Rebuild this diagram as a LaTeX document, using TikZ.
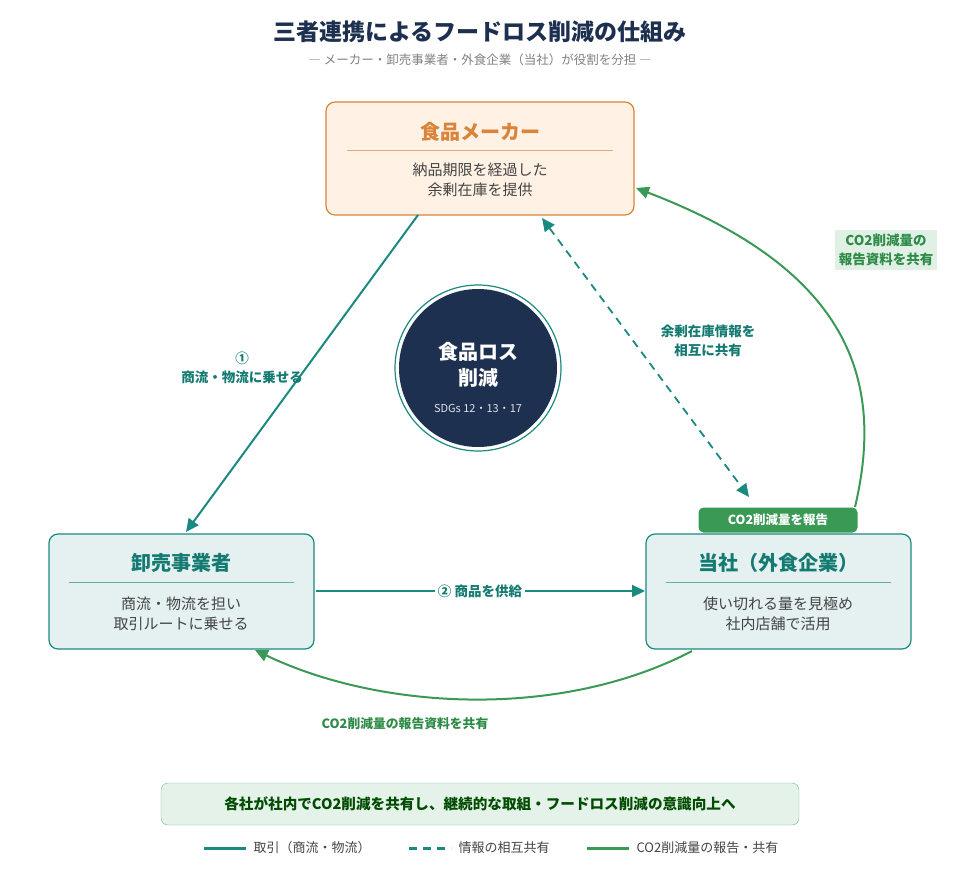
\documentclass[tikz,border=0pt]{standalone}
\usepackage{fontspec}
\setmainfont{Noto Sans CJK JP}
\usetikzlibrary{arrows.meta}
\definecolor{navy}{HTML}{1E3050}
\definecolor{teal}{HTML}{1A8A80}
\definecolor{tealdk}{HTML}{147A72}
\definecolor{leaf}{HTML}{3A9A55}
\definecolor{leafdk}{HTML}{2E8B47}
\definecolor{orng}{HTML}{D9843A}
\definecolor{txt}{HTML}{444444}
\tikzset{
  box/.style={draw, rounded corners=9pt, line width=1.2pt},
  flow/.style={draw=teal, line width=2pt, -{Triangle[length=13pt,width=12pt]}},
  info/.style={draw=teal, line width=1.8pt, dash pattern=on 8pt off 6pt, {Triangle[length=13pt,width=12pt]}-{Triangle[length=13pt,width=12pt]}},
  co2/.style={draw=leaf, line width=2pt, -{Triangle[length=13pt,width=12pt]}},
  lbl/.style={font=\bfseries\fontsize{13.5}{19}\selectfont, align=center}
}
\begin{document}
\begin{tikzpicture}[x=1pt, y=-1pt]
\useasboundingbox (0,0) rectangle (960,869);
% title
\node (title) at (480,32) {\color{navy}\bfseries\fontsize{23}{27}\selectfont 三者連携によるフードロス削減の仕組み};
\node (sub) at (480,60) {\color{gray}\fontsize{12.5}{14}\selectfont ― メーカー・卸売事業者・外食企業（当社）が役割を分担 ―};
% boxes
\draw[box, draw=orng, fill=orange!10] (326,102) rectangle (634,215);
\node at (480,132) {\color{orng}\bfseries\fontsize{20}{24}\selectfont 食品メーカー};
\draw[orng!70, line width=0.6pt] (347,150) -- (613,150);
\node[align=center, text=txt, font=\fontsize{15}{20}\selectfont] at (480,180) {納品期限を経過した\\余剰在庫を提供};
\draw[box, draw=teal, fill=teal!12] (49,534) rectangle (314,649);
\node at (181,563) {\color{tealdk}\bfseries\fontsize{20}{24}\selectfont 卸売事業者};
\draw[teal!70, line width=0.6pt] (69,582) -- (294,582);
\node[align=center, text=txt, font=\fontsize{15}{20}\selectfont] at (181,614) {商流・物流を担い\\取引ルートに乗せる};
\draw[box, draw=teal, fill=teal!12] (646,534) rectangle (911,649);
\node at (778,563) {\color{tealdk}\bfseries\fontsize{20}{24}\selectfont 当社（外食企業）};
\draw[teal!70, line width=0.6pt] (666,582) -- (891,582);
\node[align=center, text=txt, font=\fontsize{15}{20}\selectfont] at (778,614) {使い切れる量を見極め\\社内店舗で活用};
\node[fill=leaf, rounded corners=5pt, minimum width=159pt, minimum height=25pt, text=white, font=\bfseries\fontsize{12.5}{14}\selectfont] (badge) at (778,520) {CO2削減量を報告};
% center
\draw[teal, line width=1.2pt, fill=white] (478,368) circle (83);
\fill[navy] (478,368) circle (79);
\node[text=white, font=\bfseries\fontsize{20}{26}\selectfont, align=center] at (478,365) {食品ロス\\削減};
\node[text=white!85!navy, font=\fontsize{11}{13}\selectfont] at (478,408) {SDGs 12・13・17};
% connectors
\coordinate (m1) at (418,215); \coordinate (w1) at (186,532);
\draw[flow] (m1) -- (w1);
\node[lbl, text=tealdk] at (242,368) {①\\商流・物流に乗せる};
\coordinate (w2) at (316,591); \coordinate (c2) at (645,591);
\draw[flow] (w2) -- (c2);
\node[lbl, text=tealdk, fill=white] at (480,591) {② 商品を供給};
\coordinate (m3) at (542,218); \coordinate (c3) at (749,497);
\draw[info] (m3) -- (c3);
\node[lbl, text=tealdk] at (708,341) {余剰在庫情報を\\相互に共有};
\coordinate (c4) at (855,507); \coordinate (m4) at (636,188);
\draw[co2] (c4) .. controls (885,380) and (850,270) .. (m4);
\node[lbl, text=leafdk, fill=leaf!15, inner sep=4pt] at (886,250) {CO2削減量の\\報告資料を共有};
\coordinate (c5) at (692,651); \coordinate (w5) at (255,650);
\draw[co2] (c5) .. controls (560,720) and (380,710) .. (w5);
\node[lbl, text=leafdk, font=\bfseries\fontsize{12.8}{15}\selectfont] at (405,724) {CO2削減量の報告資料を共有};
% footer
\draw[draw=leaf!70, fill=leaf!13, rounded corners=7pt] (161,783) rectangle (799,825);
\node[text=green!30!black, font=\bfseries\fontsize{14.6}{17}\selectfont] at (480,804) {各社が社内でCO2削減を共有し、継続的な取組・フードロス削減の意識向上へ};
% legend
\draw[teal, line width=3pt] (204,848) -- (246,848);
\node[anchor=west, text=txt, font=\fontsize{13}{15}\selectfont] at (250,848) {取引（商流・物流）};
\draw[teal, line width=3pt, dash pattern=on 8pt off 6pt] (409,848) -- (451,848);
\node[anchor=west, text=txt, font=\fontsize{13}{15}\selectfont] at (455,848) {情報の相互共有};
\draw[leaf, line width=3pt] (587,848) -- (629,848);
\node[anchor=west, text=txt, font=\fontsize{13}{15}\selectfont] at (633,848) {CO2削減量の報告・共有};
\end{tikzpicture}
\end{document}
